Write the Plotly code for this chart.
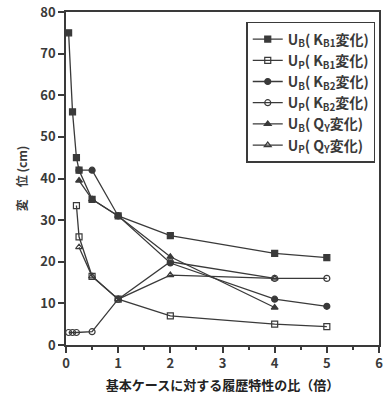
import plotly.graph_objects as go

# Data
x_us_kb1 = [0.05, 0.125, 0.2, 0.25, 0.5, 1, 2, 4, 5]
y_us_kb1 = [75, 56, 45, 42, 35, 31, 26.3, 22, 21]

x_up_kb1 = [0.2, 0.25, 0.5, 1, 2, 4, 5]
y_up_kb1 = [33.5, 26, 16.5, 11, 7, 5, 4.4]

x_us_kb2 = [0.25, 0.5, 1, 2, 4, 5]
y_us_kb2 = [42, 42, 31, 19.7, 11, 9.3]

x_up_kb2 = [0.05, 0.125, 0.2, 0.5, 1, 2, 4, 5]
y_up_kb2 = [3, 3, 3, 3.2, 11, 20, 16, 16]

x_us_qy = [0.25, 0.5, 1, 2, 4]
y_us_qy = [39.5, 35, 31, 21.2, 9]

x_up_qy = [0.25, 0.5, 1, 2, 4]
y_up_qy = [23.5, 16.5, 11, 16.8, 16]

names = [
    "U<sub>B</sub>( K<sub>B1</sub>変化)",
    "U<sub>P</sub>( K<sub>B1</sub>変化)",
    "U<sub>B</sub>( K<sub>B2</sub>変化)",
    "U<sub>P</sub>( K<sub>B2</sub>変化)",
    "U<sub>B</sub>( Q<sub>Y</sub>変化)",
    "U<sub>P</sub>( Q<sub>Y</sub>変化)",
]
xs = [x_us_kb1, x_up_kb1, x_us_kb2, x_up_kb2, x_us_qy, x_up_qy]
ys = [y_us_kb1, y_up_kb1, y_us_kb2, y_up_kb2, y_us_qy, y_up_qy]
symbols = ["square", "square-open", "circle", "circle-open", "triangle-up", "triangle-up-open"]

ink = "#3a3a3a"
font = "Noto Sans CJK JP"

fig = go.Figure()
for n, x, y, s in zip(names, xs, ys, symbols):
    fig.add_trace(go.Scatter(
        x=x, y=y, name=n, mode="lines+markers",
        line=dict(color=ink, width=1.3),
        marker=dict(symbol=s, size=6, color=ink,
                    line=dict(color=ink, width=1.2)),
    ))

fig.update_layout(
    width=390, height=400,
    margin=dict(l=66, r=11, t=12, b=55),
    paper_bgcolor="white", plot_bgcolor="white",
    font=dict(family=font, color=ink, size=12),
    showlegend=True,
    legend=dict(
        x=0.988, y=0.97, xanchor="right", yanchor="top",
        bordercolor=ink, borderwidth=1.5, bgcolor="white",
        font=dict(family=font, size=14, color=ink, weight="bold"),
        tracegroupgap=0, itemwidth=30,
    ),
    xaxis=dict(
        range=[0, 6], tickvals=[0, 1, 2, 3, 4, 5, 6], automargin=False,
        showline=True, linecolor=ink, linewidth=1.5, mirror=True,
        ticks="outside", ticklen=6, tickcolor=ink, tickwidth=1.5,
        minor=dict(dtick=0.5, ticks="outside", ticklen=3, tickcolor=ink),
        showgrid=False, zeroline=False,
        tickfont=dict(family=font, size=13, color=ink, weight="bold"),
        title=dict(text="基本ケースに対する履歴特性の比（倍）",
                   font=dict(family=font, size=13, color="#222", weight="bold"), standoff=10),
    ),
    yaxis=dict(
        range=[0, 80], tickvals=[0, 10, 20, 30, 40, 50, 60, 70, 80], automargin=False,
        showline=True, linecolor=ink, linewidth=1.5, mirror=True,
        ticks="outside", ticklen=6, tickcolor=ink, tickwidth=1.5,
        showgrid=False, zeroline=False,
        tickfont=dict(family=font, size=13, color=ink, weight="bold"),
        title=dict(text="変　位 (cm)",
                   font=dict(family=font, size=12, color=ink, weight="bold"), standoff=10),
    ),
)

fig.write_html("out.html", config={"displayModeBar": False},
               post_script="document.body.style.margin='0';")
